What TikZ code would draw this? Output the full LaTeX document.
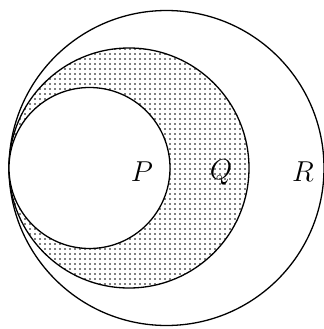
\documentclass[tikz,border=0pt]{standalone}
\usetikzlibrary{patterns.meta}
\begin{document}
\begin{tikzpicture}[x=0.5pt,y=0.5pt,
  circ/.style={line width=0.65pt},
  lbl/.style={font=\fontsize{14.5}{16}\selectfont, inner sep=0pt}]
\useasboundingbox (0,0) rectangle (324,329);
\coordinate (cR) at (166.5,161);
\coordinate (cQ) at (129,161);
\coordinate (cP) at (89.5,161);
\draw[circ] (cR) circle[radius=157.5];
\fill[white] (cQ) circle[radius=120];
\fill[pattern={Dots[distance=2.5pt, radius=0.45pt]}, pattern color=black] (cQ) circle[radius=120];
\draw[circ] (cQ) circle[radius=120];
\fill[white] (cP) circle[radius=80.5];
\draw[circ] (cP) circle[radius=80.5];
\node[lbl] (p) at (142,157) {$P$};
\node[lbl] (q) at (221,157) {$Q$};
\node[lbl] (r) at (303,157) {$R$};
\end{tikzpicture}
\end{document}
